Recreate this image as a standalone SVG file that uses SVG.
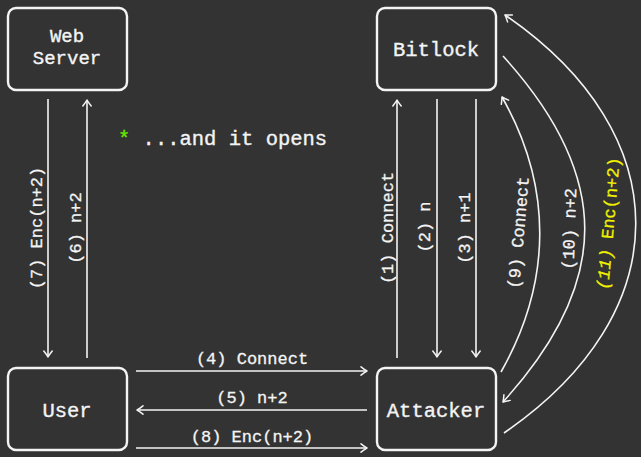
<svg xmlns="http://www.w3.org/2000/svg" width="641" height="457" viewBox="0 0 641 457">
<style>
.box{fill:#333333;stroke:#f4f4f4;stroke-width:2.4}
.nt{font-family:"Liberation Mono","DejaVu Sans Mono",monospace;font-size:20.5px;fill:#f4f4f4;text-anchor:middle;stroke:#f4f4f4;stroke-width:0.35}
.lt{font-family:"Liberation Mono","DejaVu Sans Mono",monospace;font-size:17px;fill:#f4f4f4;text-anchor:middle;stroke:#f4f4f4;stroke-width:0.3}
.ln{fill:none;stroke:#f4f4f4;stroke-width:1.6;marker-end:url(#ah)}
</style>
<defs>
<marker id="ah" viewBox="-8 -6 10 12" refX="0" refY="0" markerWidth="10" markerHeight="12" orient="auto" markerUnits="userSpaceOnUse">
<path d="M-6,-4.2 Q-2.2,-1.2 0,0 Q-2.2,1.2 -6,4.2" fill="none" stroke="#f4f4f4" stroke-width="1.5" stroke-linecap="round" stroke-linejoin="round"/>
</marker>
</defs>
<rect width="641" height="457" fill="#333333"/>
<g id="connectors">
<path class="ln" d="M48,99 L48,357"/>
<path class="ln" d="M87,358 L87,100"/>
<path class="ln" d="M397,358 L397,100"/>
<path class="ln" d="M437,99 L437,357"/>
<path class="ln" d="M476,99 L476,357"/>
<path class="ln" d="M136,371 L367,371"/>
<path class="ln" d="M367,410 L137,410"/>
<path class="ln" d="M136,448 L367,448"/>
<path class="ln" d="M501,372 C552,282 553,187 502,97"/>
<path class="ln" d="M503,56 C612,176 612,282 503,402"/>
<path class="ln" d="M504,433 C679,313 680,135 505,15"/>
<text class="lt" transform="translate(42,228) rotate(-90)">(7) Enc(n+2)</text>
<text class="lt" transform="translate(81,228) rotate(-90)">(6) n+2</text>
<text class="lt" transform="translate(393,228) rotate(-90)">(1) Connect</text>
<text class="lt" transform="translate(430,227) rotate(-90)">(2) n</text>
<text class="lt" transform="translate(470,228) rotate(-90)">(3) n+1</text>
<text class="lt" x="252" y="364">(4) Connect</text>
<text class="lt" x="252" y="403">(5) n+2</text>
<text class="lt" x="252" y="442">(8) Enc(n+2)</text>
<text class="lt" transform="translate(524,233) rotate(-85)">(9) Connect</text>
<text class="lt" transform="translate(575,229) rotate(-88)">(10) n+2</text>
<text class="lt" transform="translate(614,224) rotate(-85)" style="fill:#f2f200;stroke:#f2f200"><tspan font-style="italic">(11)</tspan> Enc(n+2)</text>
</g>
<g id="webserver">
<rect class="box" x="8" y="8" width="119" height="82" rx="8"/>
<text class="nt" x="67" y="42" style="font-size:19px">Web</text>
<text class="nt" x="67" y="64" style="font-size:19px">Server</text>
</g>
<g id="bitlock">
<rect class="box" x="377" y="8" width="119" height="82" rx="8"/>
<text class="nt" x="436" y="56">Bitlock</text>
</g>
<g id="user">
<rect class="box" x="8" y="368" width="119" height="82" rx="8"/>
<text class="nt" x="67" y="417">User</text>
</g>
<g id="attacker">
<rect class="box" x="377" y="368" width="119" height="82" rx="8"/>
<text class="nt" x="436" y="417">Attacker</text>
</g>
<g id="note">
<text class="nt" x="118" y="145" style="text-anchor:start"><tspan fill="#66e600" stroke="#66e600">*</tspan> ...and it opens</text>
</g>
</svg>
